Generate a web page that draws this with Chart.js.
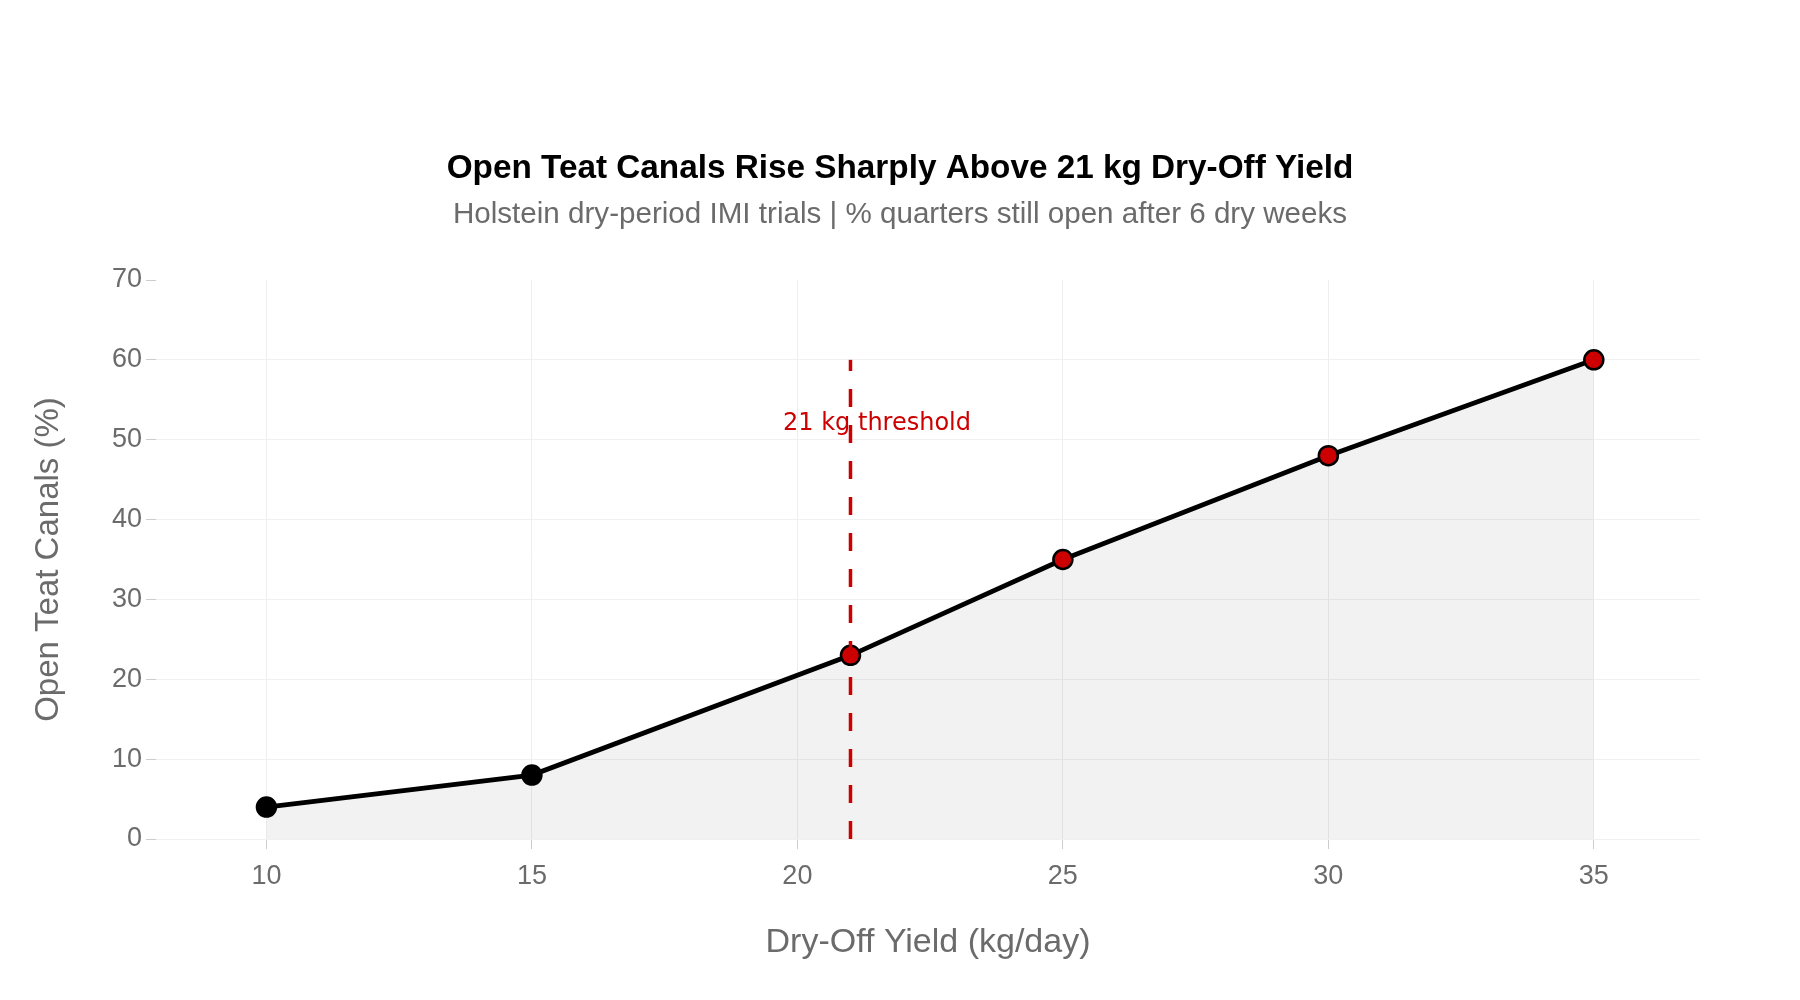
<!DOCTYPE html>
<html>
<head>
<meta charset="utf-8">
<script src="https://cdn.jsdelivr.net/npm/chart.js@4.4.1/dist/chart.umd.min.js"></script>
<style>
  html, body { margin: 0; padding: 0; background: #ffffff; }
  #wrap { width: 1800px; height: 1000px; }
</style>
</head>
<body>
<div id="wrap"><canvas id="c" width="1800" height="1000"></canvas></div>
<script>
// ---- data ----
const titleText = 'Open Teat Canals Rise Sharply Above 21 kg Dry-Off Yield';
const subtitleText = 'Holstein dry-period IMI trials | % quarters still open after 6 dry weeks';
const xAxisTitle = 'Dry-Off Yield (kg/day)';
const yAxisTitle = 'Open Teat Canals (%)';

const yieldKg = [10, 15, 21, 25, 30, 35];
const openPct = [4, 8, 23, 35, 48, 60];

const thresholdValue = 21;
const thresholdLineX = [21, 21];
const thresholdLineY = [0, 60];
const thresholdLabel = '21 kg threshold';
const thresholdLabelX = [21.5];
const thresholdLabelY = [52];

const xTicks = [10, 15, 20, 25, 30, 35];
const yTicks = [0, 10, 20, 30, 40, 50, 60, 70];
const xRange = [7.92, 37.0];
const yRange = [0, 70];

// ---- styles ----
const FONT = "'Liberation Sans', Arial, Helvetica, sans-serif";
const GRAY = '#6b6b6b';
const RED = '#cc0000';

const mainPoints = yieldKg.map((x, i) => ({ x: x, y: openPct[i] }));
const thresholdPoints = thresholdLineX.map((x, i) => ({ x: x, y: thresholdLineY[i] }));

const headerPlugin = {
  id: 'header',
  afterDraw(chart) {
    const ctx = chart.ctx;
    const cx = chart.width / 2;
    ctx.save();
    ctx.textAlign = 'center';
    ctx.textBaseline = 'middle';
    ctx.fillStyle = '#000000';
    ctx.font = "bold 33.3px " + FONT;
    ctx.fillText(titleText, cx, 169);
    ctx.fillStyle = GRAY;
    ctx.font = "29.6px " + FONT;
    ctx.fillText(subtitleText, cx, 215);
    ctx.restore();
  }
};

const thresholdLabelPlugin = {
  id: 'thresholdLabel',
  beforeDatasetsDraw(chart) {
    const ctx = chart.ctx;
    const xs = chart.scales.x, ys = chart.scales.y;
    ctx.save();
    ctx.font = "24px 'DejaVu Sans', sans-serif";
    ctx.fillStyle = RED;
    ctx.textAlign = 'center';
    ctx.textBaseline = 'middle';
    ctx.fillText(thresholdLabel, xs.getPixelForValue(thresholdLabelX[0]), ys.getPixelForValue(thresholdLabelY[0]));
    ctx.restore();
  }
};

new Chart(document.getElementById('c'), {
  type: 'scatter',
  data: {
    datasets: [
      {
        label: 'threshold',
        data: thresholdPoints,
        showLine: true,
        borderColor: RED,
        borderWidth: 3.5,
        borderDash: [18, 18],
        pointRadius: 0,
        pointHoverRadius: 0,
        fill: false,
        order: 0
      },
      {
        label: 'Open teat canals',
        data: mainPoints,
        showLine: true,
        borderColor: '#000000',
        borderWidth: 4.8,
        backgroundColor: 'rgba(0,0,0,0.05)',
        fill: 'origin',
        pointRadius: 9.5,
        pointHoverRadius: 9.5,
        pointBorderWidth: 2.5,
        pointBorderColor: '#000000',
        pointBackgroundColor: (c) => (c.raw && c.raw.x >= thresholdValue) ? RED : '#000000',
        order: 1
      }
    ]
  },
  options: {
    responsive: false,
    animation: false,
    devicePixelRatio: 1,
    layout: { padding: { top: 280, left: 0, right: 100, bottom: 0 } },
    plugins: {
      legend: { display: false },
      tooltip: { enabled: false },
      title: { display: false },
      subtitle: { display: false }
    },
    scales: {
      x: {
        type: 'linear',
        min: xRange[0],
        max: xRange[1],
        afterBuildTicks: (s) => { s.ticks = xTicks.map(v => ({ value: v })); },
        afterFit: (s) => { s.height = 161; },
        border: { display: false },
        grid: { color: '#eeeeee', lineWidth: 1, tickColor: '#cccccc', tickLength: 10 },
        ticks: { color: GRAY, font: { family: FONT, size: 27 }, padding: 11 },
        title: {
          display: true,
          text: xAxisTitle,
          color: GRAY,
          font: { family: FONT, size: 34, lineHeight: 1.2 },
          padding: { top: 0, bottom: 37 }
        }
      },
      y: {
        type: 'linear',
        min: yRange[0],
        max: yRange[1],
        afterBuildTicks: (s) => { s.ticks = yTicks.map(v => ({ value: v })); },
        afterFit: (s) => { s.width = 156; },
        border: { display: false },
        grid: {
          color: (c) => (c.tick && c.tick.value === yRange[1]) ? 'rgba(0,0,0,0)' : '#f0f0f0',
          lineWidth: 1,
          tickColor: '#cccccc',
          tickLength: 10
        },
        ticks: { color: GRAY, font: { family: FONT, size: 27 }, padding: 4 },
        title: {
          display: true,
          text: yAxisTitle,
          color: GRAY,
          font: { family: FONT, size: 33, lineHeight: 1.2 },
          padding: { top: 29, bottom: 0 }
        }
      }
    }
  },
  plugins: [thresholdLabelPlugin, headerPlugin]
});
</script>
</body>
</html>
